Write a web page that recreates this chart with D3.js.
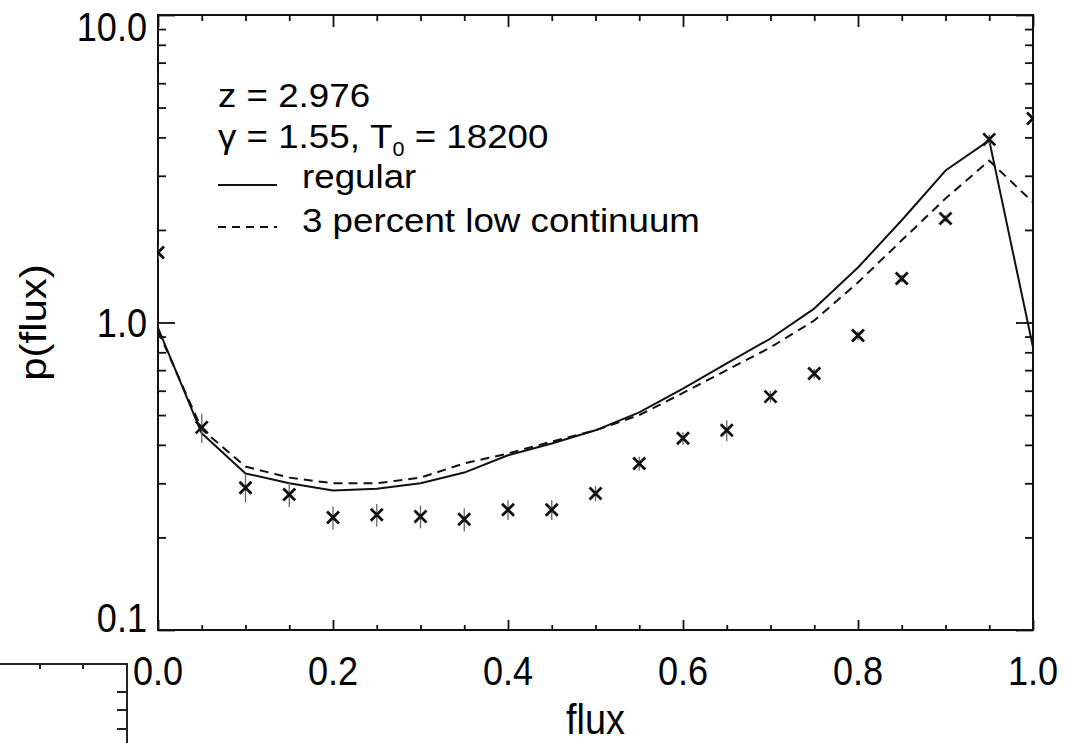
<!DOCTYPE html>
<html>
<head>
<meta charset="utf-8">
<script src="https://cdn.jsdelivr.net/npm/d3@7"></script>
<style>
  html, body { margin: 0; padding: 0; background: #fff; }
  svg { display: block; font-family: "Liberation Sans", Arial, sans-serif; }
</style>
</head>
<body>
<svg id="canvas" width="1066" height="743"></svg>
<script>
// values
let fluxBins = [0.0, 0.05, 0.1, 0.15, 0.2, 0.25, 0.3, 0.35, 0.4, 0.45, 0.5,
                0.55, 0.6, 0.65, 0.7, 0.75, 0.8, 0.85, 0.9, 0.95, 1.0]
let regular = [0.96, 0.436, 0.323, 0.30, 0.284, 0.288, 0.30, 0.325, 0.37, 0.404, 0.446,
               0.51, 0.61, 0.736, 0.887, 1.11, 1.51, 2.15, 3.12, 3.91, 0.83]
let lowCont = [0.94, 0.45, 0.34, 0.313, 0.30, 0.30, 0.313, 0.348, 0.375, 0.41, 0.446,
               0.50, 0.59, 0.70, 0.83, 1.015, 1.35, 1.85, 2.53, 3.36, 2.46]
let observed = [1.69, 0.456, 0.29, 0.276, 0.232, 0.237, 0.234, 0.229, 0.246, 0.246, 0.278,
                0.348, 0.42, 0.446, 0.574, 0.682, 0.907, 1.39, 2.18, 3.94, 4.61]
let observedErr = [0.08, 0.05, 0.03, 0.025, 0.02, 0.02, 0.02, 0.02, 0.018, 0.018, 0.016,
                   0.018, 0.02, 0.035, 0.025, 0.025, 0.03, 0.04, 0.06, 0.15, 0.15]

let xMajor = [0, 0.2, 0.4, 0.6, 0.8, 1.0]
let xTickLabels = ['0.0', '0.2', '0.4', '0.6', '0.8', '1.0']
let yMajor = [0.1, 1, 10]
let yTickLabels = ['0.1', '1.0', '10.0']

let labelZ = 'z = 2.976'
let labelGammaA = 'γ = 1.55, T'
let labelGammaSub = '0'
let labelGammaB = ' = 18200'
let legendNames = ['regular', '3 percent low continuum']

let svg = d3.select('#canvas')

let pLeft = 158, pRight = 1033, pTop = 15, pBottom = 630

let xScale = d3.scaleLinear().domain([0, 1]).range([pLeft, pRight])
let yScale = d3.scaleLog().domain([0.1, 10]).range([pBottom, pTop])

let xMinor = d3.range(0, 1.0001, 0.05).filter(v => !xMajor.some(m => Math.abs(m - v) < 1e-6))
let yMinor = yScale.ticks().filter(v => !yMajor.some(m => Math.abs(m - v) < 1e-9))

// axes with inward ticks, no domain line (frame drawn below)
let tickAxis = (axis, values, size) => axis.tickValues(values).tickSize(size).tickFormat('')
let clean = g => {
    g.select('.domain').remove()
    g.selectAll('line').attr('stroke', '#111').attr('stroke-width', 1.8)
}

svg.append('g').attr('transform', `translate(0,${pBottom})`)
    .call(tickAxis(d3.axisBottom(xScale), xMajor, -10)).call(clean)
svg.append('g').attr('transform', `translate(0,${pBottom})`)
    .call(tickAxis(d3.axisBottom(xScale), xMinor, -5)).call(clean)
svg.append('g').attr('transform', `translate(0,${pTop})`)
    .call(tickAxis(d3.axisTop(xScale), xMajor, -12)).call(clean)
svg.append('g').attr('transform', `translate(0,${pTop})`)
    .call(tickAxis(d3.axisTop(xScale), xMinor, -6)).call(clean)
svg.append('g').attr('transform', `translate(${pLeft},0)`)
    .call(tickAxis(d3.axisLeft(yScale), yMajor, -17)).call(clean)
svg.append('g').attr('transform', `translate(${pLeft},0)`)
    .call(tickAxis(d3.axisLeft(yScale), yMinor, -8)).call(clean)
svg.append('g').attr('transform', `translate(${pRight},0)`)
    .call(tickAxis(d3.axisRight(yScale), yMajor, -17)).call(clean)
svg.append('g').attr('transform', `translate(${pRight},0)`)
    .call(tickAxis(d3.axisRight(yScale), yMinor, -8)).call(clean)

svg.append('rect')
    .attr('x', pLeft).attr('y', pTop)
    .attr('width', pRight - pLeft).attr('height', pBottom - pTop)
    .attr('fill', 'none').attr('stroke', '#111').attr('stroke-width', 2)

// tick labels
svg.selectAll('.xlab')
    .data(xMajor)
    .enter()
    .append('text')
    .attr('transform', d => `translate(${xScale(d)},685) scale(0.88,1)`)
    .attr('text-anchor', 'middle')
    .attr('font-size', 41)
    .text((d, i) => xTickLabels[i])

svg.selectAll('.ylab')
    .data(yMajor)
    .enter()
    .append('text')
    .attr('transform', d => {
        let y = Math.min(Math.max(yScale(d), pTop + 11), pBottom - 13)
        return `translate(147,${y}) scale(0.88,1)`
    })
    .attr('text-anchor', 'end')
    .attr('dy', '0.36em')
    .attr('font-size', 41)
    .text((d, i) => yTickLabels[i])

// axis titles
svg.append('text')
    .attr('transform', `translate(${(pLeft + pRight) / 2},734) scale(0.9,1)`)
    .attr('text-anchor', 'middle')
    .attr('font-size', 42)
    .text('flux')

svg.append('text')
    .attr('transform', `translate(46,${(pTop + pBottom) / 2}) rotate(-90) scale(1,0.9)`)
    .attr('text-anchor', 'middle')
    .attr('font-size', 42)
    .text('p(flux)')

// data
svg.append('clipPath').attr('id', 'plot-clip')
    .append('rect')
    .attr('x', pLeft).attr('y', pTop)
    .attr('width', pRight - pLeft).attr('height', pBottom - pTop)

let plot = svg.append('g').attr('clip-path', 'url(#plot-clip)')

let line = d3.line()
    .x((d, i) => xScale(fluxBins[i]))
    .y(d => yScale(d))

plot.append('path')
    .attr('d', line(regular))
    .attr('fill', 'none')
    .attr('stroke', '#111')
    .attr('stroke-width', 2)
    .attr('stroke-linejoin', 'round')

plot.append('path')
    .attr('d', line(lowCont))
    .attr('fill', 'none')
    .attr('stroke', '#111')
    .attr('stroke-width', 2)
    .attr('stroke-dasharray', '9,6')

// error bars
plot.selectAll('.err')
    .data(observed)
    .enter()
    .append('line')
    .attr('x1', (d, i) => xScale(fluxBins[i]))
    .attr('x2', (d, i) => xScale(fluxBins[i]))
    .attr('y1', (d, i) => yScale(d - observedErr[i]))
    .attr('y2', (d, i) => yScale(d + observedErr[i]))
    .attr('stroke', '#666')
    .attr('stroke-width', 1.3)

// crosses
let s = 6
plot.selectAll('.obs')
    .data(observed)
    .enter()
    .append('path')
    .attr('d', (d, i) => {
        let x = xScale(fluxBins[i]), y = yScale(d)
        return `M${x - s},${y - s}L${x + s},${y + s}M${x - s},${y + s}L${x + s},${y - s}`
    })
    .attr('stroke', '#111')
    .attr('stroke-width', 2.8)

// legend
let legend = svg.append('g')

legend.append('text')
    .attr('transform', 'translate(218,107) scale(1.08,1)')
    .attr('font-size', 34)
    .text(labelZ)

let gamma = legend.append('text')
    .attr('transform', 'translate(218,148) scale(1.08,1)')
    .attr('font-size', 34)
gamma.append('tspan').text(labelGammaA)
gamma.append('tspan').attr('font-size', 20).attr('dy', 8).text(labelGammaSub)
gamma.append('tspan').attr('dy', -8).text(labelGammaB)

legend.append('line')
    .attr('x1', 218).attr('x2', 277).attr('y1', 185).attr('y2', 185)
    .attr('stroke', '#111').attr('stroke-width', 2)
legend.append('line')
    .attr('x1', 218).attr('x2', 277).attr('y1', 227).attr('y2', 227)
    .attr('stroke', '#111').attr('stroke-width', 1.8).attr('stroke-dasharray', '8,6')

legend.selectAll('.lname')
    .data(legendNames)
    .enter()
    .append('text')
    .attr('transform', (d, i) => `translate(302,${188 + i * 44}) scale(1.08,1)`)
    .attr('font-size', 34)
    .text(d => d)

// corner of the neighbouring panel at bottom left
let frag = svg.append('g').attr('stroke', '#222').attr('stroke-width', 2).attr('fill', 'none')
frag.append('path').attr('d', 'M0,664H127V743')
;[40, 83].forEach(x => frag.append('line').attr('x1', x).attr('x2', x).attr('y1', 664).attr('y2', 669))
;[692, 710, 729].forEach(y => frag.append('line').attr('x1', 117).attr('x2', 127).attr('y1', y).attr('y2', y))
</script>
</body>
</html>
